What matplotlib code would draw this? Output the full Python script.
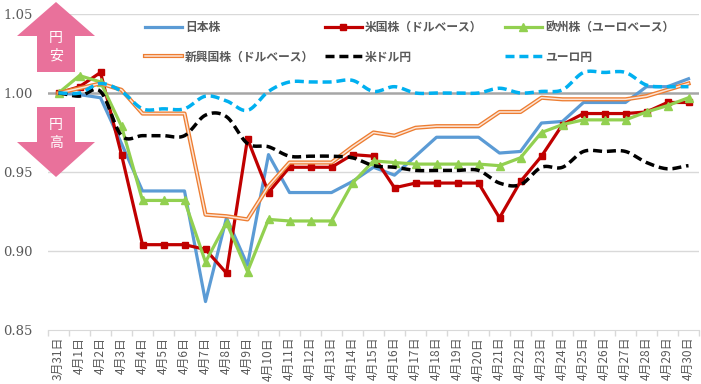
import numpy as np
import matplotlib
matplotlib.use('Agg')
import matplotlib.pyplot as plt
from matplotlib.lines import Line2D
from matplotlib.patches import Polygon
from matplotlib.transforms import IdentityTransform
from matplotlib.legend_handler import HandlerTuple

plt.rcParams['font.family'] = ['Noto Sans CJK JP', 'DejaVu Sans']

dates = ['3月31日'] + ['4月%d日' % d for d in range(1, 31)]

japan = [1.000, 0.999, 0.997, 0.968, 0.938, 0.938, 0.938, 0.868, 0.921, 0.891,
         0.961, 0.937, 0.937, 0.937, 0.944, 0.953, 0.948, 0.960, 0.972, 0.972,
         0.972, 0.962, 0.963, 0.981, 0.982, 0.994, 0.994, 0.994, 1.004, 1.004, 1.009]
us = [1.000, 1.004, 1.013, 0.961, 0.904, 0.904, 0.904, 0.901, 0.886, 0.971,
      0.937, 0.953, 0.953, 0.953, 0.961, 0.960, 0.940, 0.943, 0.943, 0.943,
      0.943, 0.921, 0.944, 0.960, 0.980, 0.987, 0.987, 0.987, 0.988, 0.994, 0.994]
europe = [1.000, 1.011, 1.007, 0.979, 0.932, 0.932, 0.932, 0.893, 0.918, 0.887,
          0.920, 0.919, 0.919, 0.919, 0.943, 0.957, 0.956, 0.955, 0.955, 0.955,
          0.955, 0.954, 0.959, 0.975, 0.980, 0.983, 0.983, 0.983, 0.988, 0.992, 0.997]
emerging = [1.000, 1.003, 1.006, 1.002, 0.987, 0.987, 0.987, 0.923, 0.922, 0.920,
            0.941, 0.956, 0.956, 0.956, 0.966, 0.975, 0.973, 0.978, 0.979, 0.979,
            0.979, 0.988, 0.988, 0.997, 0.996, 0.996, 0.996, 0.996, 0.998, 1.002, 1.006]
usdjpy = [1.000, 0.998, 1.001, 0.973, 0.973, 0.973, 0.973, 0.986, 0.985, 0.968,
          0.966, 0.960, 0.960, 0.960, 0.959, 0.954, 0.953, 0.951, 0.951, 0.951,
          0.951, 0.943, 0.942, 0.953, 0.953, 0.963, 0.963, 0.963, 0.956, 0.952, 0.954]
eurjpy = [1.000, 1.000, 1.006, 1.001, 0.990, 0.990, 0.990, 0.998, 0.995, 0.989,
          1.001, 1.007, 1.007, 1.007, 1.008, 1.001, 1.004, 1.000, 1.000, 1.000,
          1.000, 1.003, 1.000, 1.001, 1.002, 1.013, 1.013, 1.013, 1.005, 1.004, 1.004]


def smooth(y, n=12):
    # Catmull-Rom curve through the points (like Excel's smoothed line)
    y = np.asarray(y, float)
    p = np.concatenate([[y[0]], y, [y[-1]]])
    xs, ys = [], []
    t = np.linspace(0, 1, n, endpoint=False)
    for i in range(len(y) - 1):
        p0, p1, p2, p3 = p[i], p[i + 1], p[i + 2], p[i + 3]
        seg = 0.5 * (2 * p1 + (-p0 + p2) * t + (2 * p0 - 5 * p1 + 4 * p2 - p3) * t ** 2
                     + (-p0 + 3 * p1 - 3 * p2 + p3) * t ** 3)
        xs.append(i + t)
        ys.append(seg)
    xs.append([len(y) - 1])
    ys.append([y[-1]])
    return np.concatenate(xs), np.concatenate(ys)


W, H = 701, 384
fig = plt.figure(figsize=(W / 100, H / 100), dpi=100)
ax = fig.add_axes([48 / W, (H - 330) / H, 651 / W, 316 / H])

x = np.arange(len(dates))
dash = (0, (2.6, 1.4))

ax.plot(x, japan, color='#5B9BD5', lw=2.3, zorder=3)
ax.plot(x, us, color='#C00000', lw=2.3, marker='s', ms=5, zorder=3)
ax.plot(x, europe, color='#92D050', lw=2.3, marker='^', ms=5.5, zorder=3)
ax.plot(x, emerging, color='#ED7D31', lw=3.0, zorder=3)
ax.plot(x, emerging, color='#FCE4D6', lw=1.1, zorder=3)
sx, sy = smooth(usdjpy)
ax.plot(sx, sy, color='black', lw=2.5, ls=dash, zorder=3)
sx, sy = smooth(eurjpy)
ax.plot(sx, sy, color='#00B0F0', lw=2.5, ls=dash, zorder=3)

ax.set_xlim(-0.5, len(dates) - 0.5)
ax.set_ylim(0.85, 1.05)
ax.set_yticks([0.85, 0.90, 0.95, 1.00, 1.05])
ax.set_yticklabels(['0.85', '0.90', '0.95', '1.00', '1.05'],
                   family='DejaVu Serif', fontsize=9.5, color='#595959')
ax.tick_params(axis='y', length=0, pad=11)
for v in [0.90, 0.95, 1.05]:
    ax.axhline(v, color='#D9D9D9', lw=1, zorder=1)
ax.axhline(1.00, color='#A6A6A6', lw=1.8, zorder=1)

ax.set_xticks(x)
ax.set_xticklabels(dates, rotation=90, fontsize=8.6, color='#595959', va='top')
ax.set_xticks(np.arange(len(dates) + 1) - 0.5, minor=True)
ax.tick_params(axis='x', which='major', length=0, pad=5)
ax.tick_params(axis='x', which='minor', length=4, color='#D9D9D9', width=1)
for s in ['top', 'right', 'left']:
    ax.spines[s].set_visible(False)
ax.spines['bottom'].set_color('#D9D9D9')

# legend: three columns
h_jp = Line2D([], [], color='#5B9BD5', lw=2.3)
h_us = Line2D([], [], color='#C00000', lw=2.3, marker='s', ms=5)
h_eu = Line2D([], [], color='#92D050', lw=2.3, marker='^', ms=5.5)
h_em = (Line2D([], [], color='#ED7D31', lw=3.0), Line2D([], [], color='#FCE4D6', lw=1.1))
h_usd = Line2D([], [], color='black', lw=2.5, ls=dash)
h_eur = Line2D([], [], color='#00B0F0', lw=2.5, ls=dash)
cols = [([h_jp, h_em], ['日本株', '新興国株（ドルベース）'], 145),
        ([h_us, h_usd], ['米国株（ドルベース）', '米ドル円'], 325),
        ([h_eu, h_eur], ['欧州株（ユーロベース）', 'ユーロ円'], 505)]
for handles, labels, px in cols:
    leg = fig.legend(handles, labels, loc='upper left',
                     bbox_to_anchor=(px / W, 1 - 21 / H), frameon=False,
                     borderpad=0, borderaxespad=0, handlelength=3.1,
                     handletextpad=0.3, labelspacing=1.4,
                     prop={'family': 'Noto Sans CJK JP', 'weight': 'bold', 'size': 8.5},
                     labelcolor='#595959',
                     handler_map={tuple: HandlerTuple(ndivide=1, pad=0)})

# pink arrows for 円安 / 円高
pink = '#E9719B'
up = [(56, 2), (95, 36), (75, 36), (75, 72), (37, 72), (37, 36), (17, 36)]
down = [(37, 107), (75, 107), (75, 142), (95, 142), (56, 177), (17, 142), (37, 142)]
for pts in (up, down):
    fig.add_artist(Polygon([(a, H - b) for a, b in pts], closed=True, fc=pink,
                           ec='none', transform=IdentityTransform(), zorder=5))
for ch, yy in [('円', 38), ('安', 56), ('円', 125), ('高', 143)]:
    fig.text(56 / W, 1 - yy / H, ch, color='white', fontsize=10,
             ha='center', va='center', zorder=6)

fig.savefig('out.png', dpi=100)
